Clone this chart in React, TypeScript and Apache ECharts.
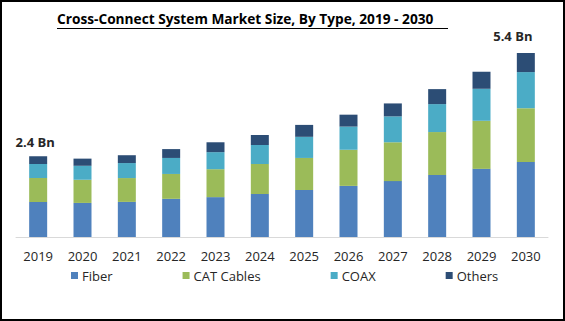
import React, { useEffect, useRef } from "react";
import * as echarts from "echarts";

const years = ["2019", "2020", "2021", "2022", "2023", "2024", "2025", "2026", "2027", "2028", "2029", "2030"];
const fiber = [1.03, 1.0, 1.03, 1.12, 1.17, 1.26, 1.38, 1.5, 1.64, 1.82, 2.0, 2.2];
const catCables = [0.7, 0.68, 0.7, 0.73, 0.82, 0.88, 0.94, 1.06, 1.14, 1.26, 1.41, 1.58];
const coax = [0.41, 0.41, 0.44, 0.47, 0.5, 0.56, 0.62, 0.68, 0.76, 0.82, 0.94, 1.06];
const others = [0.23, 0.21, 0.23, 0.26, 0.29, 0.29, 0.35, 0.35, 0.38, 0.44, 0.5, 0.56];
const totalLabels: Record<number, string> = { 0: "2.4 Bn", 11: "5.4 Bn" };

const FONT = "'Open Sans', sans-serif";

export default function App() {
  const ref = useRef<HTMLDivElement>(null);
  useEffect(() => {
    if (!ref.current) return;
    const chart = echarts.init(ref.current, null, { renderer: "svg" });
    const othersData = others.map((v, i) => {
      if (totalLabels[i] === undefined) return v;
      return {
        value: v,
        label: {
          show: true,
          position: "top",
          distance: i === 0 ? 8 : 11,
          offset: i === 0 ? [-3, 0] : [-13, 0],
          formatter: totalLabels[i],
          fontFamily: FONT,
          fontWeight: "bold",
          fontSize: 13,
          color: "#262626",
        },
      };
    });
    const mk = (name: string, data: any[], color: string) => ({
      name,
      type: "bar",
      stack: "total",
      barWidth: 18,
      data,
      itemStyle: { color },
    });
    chart.setOption({
      animation: false,
      backgroundColor: "#ffffff",
      title: {
        text: "Cross-Connect System Market Size, By Type, 2019 - 2030",
        left: 57,
        top: 11,
        padding: 0,
        textStyle: { fontFamily: FONT, fontWeight: "bold", fontSize: 13.7, color: "#000000" },
      },
      graphic: [
        { type: "line", shape: { x1: 57, y1: 28.5, x2: 448, y2: 28.5 }, style: { stroke: "#000", lineWidth: 1 } },
        { type: "rect", shape: { x: 1, y: 1, width: 563, height: 319 }, style: { fill: "none", stroke: "#000", lineWidth: 2 } },
      ],
      legend: {
        left: 71,
        top: 269,
        padding: 0,
        itemWidth: 7,
        itemHeight: 7,
        itemGap: 70,
        icon: "rect",
        textStyle: { fontFamily: FONT, fontSize: 13, color: "#262626", padding: [0, 0, 0, -1] },
        data: ["Fiber", "CAT Cables", "COAX", "Others"],
      },
      grid: { left: 16, right: 17, top: 53, bottom: 84 },
      xAxis: {
        type: "category",
        data: years,
        axisLine: { lineStyle: { color: "#d9d9d9", width: 1 } },
        axisTick: { show: false },
        axisLabel: { fontFamily: FONT, fontSize: 13, color: "#262626", margin: 12 },
      },
      yAxis: { type: "value", min: 0, max: 5.4, show: false, splitLine: { show: false } },
      series: [
        mk("Fiber", fiber, "#4F81BD"),
        mk("CAT Cables", catCables, "#9BBB59"),
        mk("COAX", coax, "#4BACC6"),
        mk("Others", othersData, "#2C4D75"),
      ],
    });
    return () => chart.dispose();
  }, []);
  return <div ref={ref} style={{ position: "fixed", left: 0, top: 0, width: 565, height: 321 }} />;
}
